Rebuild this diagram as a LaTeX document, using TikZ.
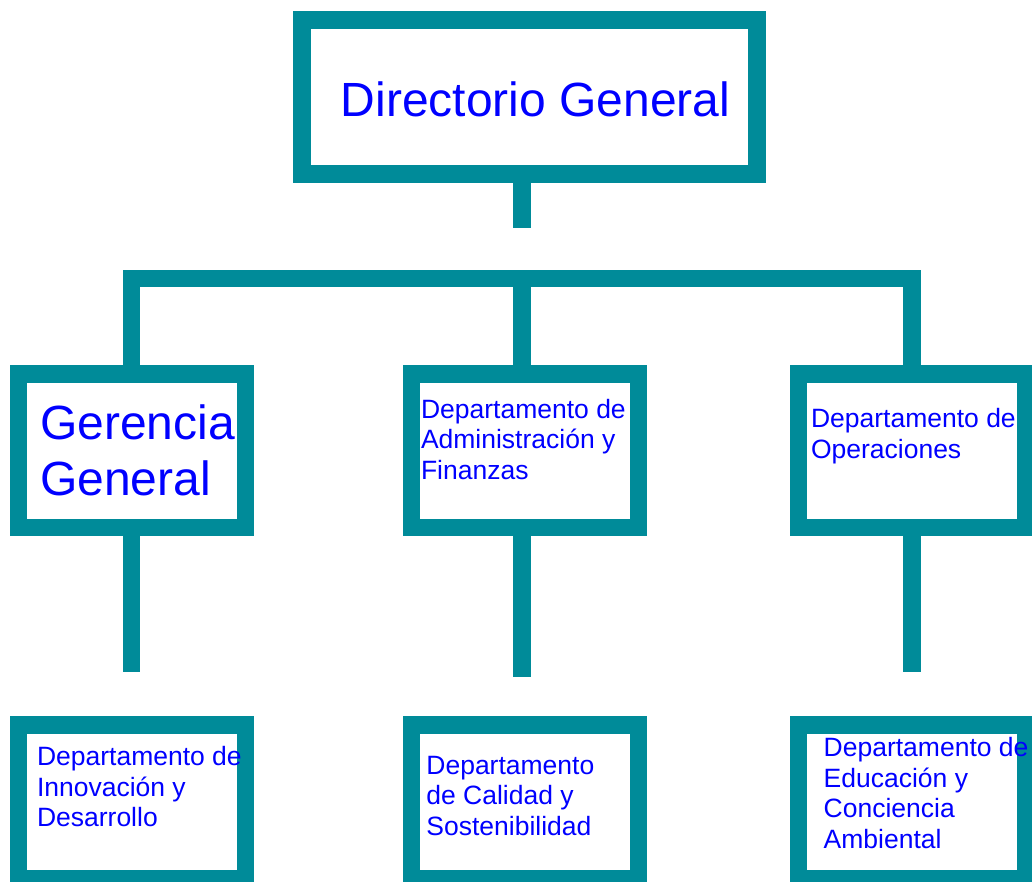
\documentclass[tikz,border=0pt]{standalone}
\usepackage{fontspec}
\setmainfont{Liberation Sans}
\usetikzlibrary{calc}
\definecolor{orgteal}{RGB}{0,139,153}
\definecolor{orgblue}{RGB}{0,0,255}

\begin{document}
\begin{tikzpicture}[x=1pt,y=-1pt,
  unit/.style={draw=orgteal,fill=white,line width=17.5pt,inner sep=0pt,outer sep=0pt,
    minimum width=227pt,minimum height=153.5pt},
  link/.style={draw=orgteal,line width=17.5pt},
  bigtxt/.style={text=orgblue,inner sep=0pt,anchor=base west,align=left,
    font=\fontsize{48}{55.7}\selectfont},
  smalltxt/.style={text=orgblue,inner sep=0pt,anchor=base west,align=left,
    font=\fontsize{26.5}{30.5}\selectfont}]
  \useasboundingbox (0,0) rectangle (1032,881);
  % boxes
  \node [unit,minimum width=454.6pt,minimum height=154.4pt] (dir) at (529.5,97) {};
  \node [unit] (ger) at (131.8,450.5) {};
  \node [unit] (adm) at (525,450.5) {};
  \node [unit] (ops) at (912,450.5) {};
  \node [unit] (inn) at (131.8,801.6) {};
  \node [unit] (cal) at (525,801.6) {};
  \node [unit] (edu) at (912,801.6) {};
  % branch points and free ends
  \coordinate (c1) at (131.5,278.7);
  \coordinate (c2) at (521.8,278.7);
  \coordinate (c3) at (912,278.7);
  \coordinate (t) at (521.8,227.7);
  \coordinate (e1) at (131.5,671.7);
  \coordinate (e2) at (521.8,677.3);
  \coordinate (e3) at (912,671.7);
  % lines
  \draw [link] (dir.south -| t) -- (t);
  \draw [link] (ger.north -| c1) -- (c1) -- (c3) -- (ops.north -| c3);
  \draw [link] (c2) -- (adm.north -| c2);
  \draw [link] (ger.south -| e1) -- (e1);
  \draw [link] (adm.south -| e2) -- (e2);
  \draw [link] (ops.south -| e3) -- (e3);
  % texts (placed at the baseline of the last line)
  \node [bigtxt] (dirtxt) at (340.5,116.7) {Directorio General};
  \node [bigtxt] (gertxt) at (40,495) {Gerencia\\General};
  \node [smalltxt] (admtxt) at (420.8,479.3) {Departamento de\\Administración y\\Finanzas};
  \node [smalltxt] (opstxt) at (810.8,458.3) {Departamento de\\Operaciones};
  \node [smalltxt] (inntxt) at (36.8,826.7) {Departamento de\\Innovación y\\Desarrollo};
  \node [smalltxt] (caltxt) at (426.2,835) {Departamento\\de Calidad y\\Sostenibilidad};
  \node [smalltxt] (edutxt) at (823.5,848.3) {Departamento de\\Educación y\\Conciencia\\Ambiental};
\end{tikzpicture}
\end{document}
